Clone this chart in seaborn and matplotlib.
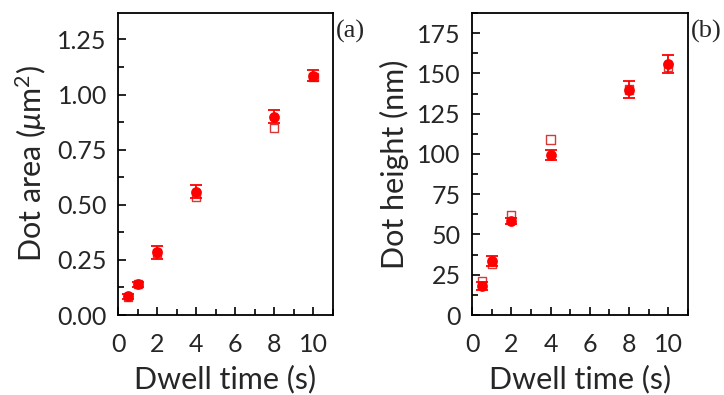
import matplotlib
matplotlib.use("Agg")
import matplotlib.pyplot as plt
import seaborn as sns
import numpy as np
import pandas as pd
from matplotlib.ticker import MultipleLocator, FormatStrFormatter

sns.set_theme(style="ticks")
plt.rcParams['font.family'] = ['Lato', 'DejaVu Sans']
plt.rcParams['mathtext.fontset'] = 'custom'
plt.rcParams['mathtext.rm'] = 'Lato'
plt.rcParams['mathtext.it'] = 'Lato:italic'

# Data
dwell = [0.5, 1, 2, 4, 8, 10]
area_meas = [0.085, 0.14, 0.285, 0.56, 0.90, 1.085]
area_err = [0.012, 0.012, 0.03, 0.03, 0.03, 0.025]
area_model = [0.08, 0.14, 0.28, 0.535, 0.85, 1.08]

height_meas = [18, 33.5, 58.5, 99.5, 140, 156]
height_err = [2.5, 3, 2, 3, 5.5, 5.5]
height_model = [21, 31.5, 62, 109, 140, 154]

red = "#ff0000"
red_open = "#d43a3a"

fig = plt.figure(figsize=(7.24, 3.95), dpi=100)
ax1 = fig.add_axes([0.163, 0.2025, 0.297, 0.7645])
ax2 = fig.add_axes([0.652, 0.2025, 0.298, 0.7645])

def panel(ax, y, err, model, ylim, major, minor, ylabel, tag):
    df = pd.DataFrame({"x": dwell, "y": y, "m": model})
    sns.scatterplot(data=df, x="x", y="m", ax=ax, marker="s", s=34,
                    facecolor="none", edgecolor=red_open, linewidth=1.0, zorder=2)
    ax.errorbar(dwell, y, yerr=err, fmt="none", ecolor=red, elinewidth=1.3,
                capsize=4, capthick=1.3, zorder=3)
    sns.scatterplot(data=df, x="x", y="y", ax=ax, marker="o", s=60,
                    color=red, edgecolor=red, linewidth=0, zorder=4)
    ax.set_xlim(0, 11)
    ax.set_ylim(*ylim)
    ax.xaxis.set_major_locator(MultipleLocator(2))
    ax.xaxis.set_minor_locator(MultipleLocator(1))
    ax.yaxis.set_major_locator(MultipleLocator(major))
    ax.yaxis.set_minor_locator(MultipleLocator(minor))
    ax.tick_params(which="both", direction="in", top=False, right=False,
                   labelsize=18, width=1.2, color="black", pad=8)
    ax.tick_params(axis="x", which="both", pad=13)
    ax.tick_params(which="major", length=6)
    ax.tick_params(which="minor", length=4)
    for s in ax.spines.values():
        s.set_linewidth(1.3)
        s.set_color("black")
    ax.set_xlabel("Dwell time (s)", fontsize=22, labelpad=6)
    ax.set_ylabel(ylabel, fontsize=22, labelpad=6)
    ax.text(1.015, 0.94, tag, transform=ax.transAxes, fontsize=19,
            family=["Liberation Serif"], va="center", ha="left")

panel(ax1, area_meas, area_err, area_model, (0, 1.37), 0.25, 0.125,
      r"Dot area ($\mu$m$^2$)", "(a)")
ax1.yaxis.set_major_formatter(FormatStrFormatter("%.2f"))
panel(ax2, height_meas, height_err, height_model, (0, 187.5), 25, 12.5,
      "Dot height (nm)", "(b)")

fig.savefig("out.png", dpi=100)
